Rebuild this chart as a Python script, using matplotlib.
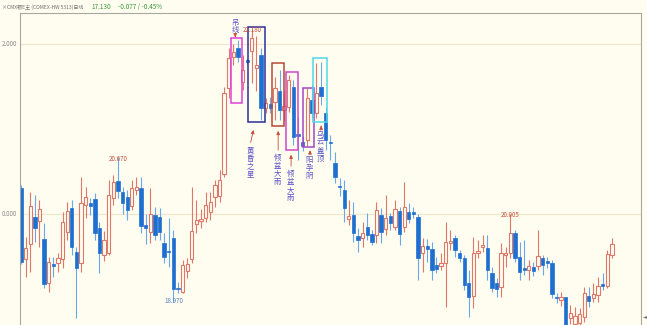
import matplotlib as mpl
mpl.use('Agg')
import matplotlib.pyplot as plt
from matplotlib.patches import Rectangle
import numpy as np

plt.rcParams['font.family'] = ['Noto Sans CJK SC', 'DejaVu Sans']

# Daily candles (open, close, high, low)
opens = [20.31, 19.47, 19.65, 19.96, 19.92, 19.71, 19.19, 19.41, 19.42, 19.47,
         19.79, 20.07, 19.55, 19.42, 20.11, 20.13, 20.18, 19.84, 19.52, 19.54,
         20.19, 20.39, 20.26, 20.20, 20.09, 20.28, 20.31, 19.87, 19.79, 19.99,
         19.96, 19.66, 19.57, 19.72, 19.13, 19.08, 19.33, 19.47, 19.88, 19.92,
         19.95, 20.02, 20.20, 20.21, 20.47, 21.48, 21.85, 21.95, 21.55, 21.81,
         21.92, 21.72, 21.87, 21.25, 21.29, 21.32, 21.45, 21.22, 21.26, 21.49,
         20.94, 20.85, 20.87, 21.34, 21.19, 21.49, 21.19, 20.84, 20.60, 20.33,
         20.28, 19.94, 19.99, 19.74, 19.72, 19.85, 19.76, 19.75, 19.99, 19.82,
         19.98, 19.85, 20.04, 19.85, 20.02, 20.02, 19.96, 19.54, 19.62, 19.59,
         19.40, 19.39, 19.42, 19.66, 19.72, 19.54, 19.48, 19.19, 19.04, 19.54,
         19.61, 19.60, 19.31, 19.19, 19.14, 19.52, 19.54, 19.78, 19.49, 19.36,
         19.34, 19.38, 19.39, 19.48, 19.45, 19.42, 19.02, 18.99, 19.02, 18.78,
         18.70, 18.72, 18.79, 19.04, 19.01, 19.05, 19.18, 19.15, 19.52]
closes = [19.44, 19.60, 20.09, 19.84, 20.06, 19.18, 19.44, 19.39, 19.48, 19.91,
          20.04, 19.61, 19.36, 20.13, 20.20, 20.09, 19.78, 19.54, 19.69, 20.22,
          20.38, 20.27, 20.13, 20.05, 20.31, 20.32, 19.86, 19.84, 20.00, 19.75,
          19.79, 19.49, 19.55, 19.12, 19.12, 19.40, 19.41, 19.80, 19.93, 19.94,
          20.11, 20.14, 20.34, 20.40, 21.42, 21.84, 21.91, 21.85, 21.69, 21.79,
          22.07, 21.75, 21.25, 21.31, 21.25, 21.48, 21.22, 21.27, 21.58, 20.91,
          20.92, 20.80, 21.36, 21.19, 21.42, 21.39, 20.87, 20.83, 20.44, 20.32,
          20.07, 19.98, 19.78, 19.69, 19.78, 19.75, 19.67, 20.05, 19.79, 19.95,
          19.89, 20.06, 19.76, 20.08, 19.94, 20.00, 19.48, 19.62, 19.59, 19.34,
          19.35, 19.42, 19.67, 19.68, 19.58, 19.48, 19.16, 19.02, 19.54, 19.56,
          19.64, 19.34, 19.13, 19.12, 19.54, 19.54, 19.78, 19.48, 19.32, 19.34,
          19.39, 19.33, 19.51, 19.40, 19.42, 19.06, 19.01, 19.02, 18.62, 18.84,
          18.80, 18.82, 19.07, 18.98, 19.06, 19.15, 19.15, 19.53, 19.65]
highs = [20.34, 19.73, 20.26, 20.22, 20.16, 19.89, 19.49, 19.49, 19.54, 20.02,
         20.14, 20.16, 19.61, 20.44, 20.32, 20.19, 20.25, 19.91, 19.80, 20.40,
         20.46, 20.67, 20.32, 20.28, 20.40, 20.44, 20.44, 20.00, 20.31, 20.08,
         20.07, 19.78, 19.95, 19.81, 19.20, 19.46, 19.48, 20.32, 20.16, 20.06,
         20.26, 20.26, 20.40, 20.52, 21.49, 21.95, 22.00, 22.05, 21.87, 21.83,
         22.18, 22.10, 21.95, 21.36, 21.38, 21.61, 21.69, 21.45, 21.64, 21.58,
         21.14, 20.92, 21.48, 21.52, 21.78, 21.79, 21.26, 20.93, 20.73, 20.42,
         20.40, 20.16, 20.14, 19.84, 19.91, 20.01, 19.81, 20.14, 20.07, 20.22,
         20.01, 20.16, 20.08, 20.38, 20.13, 20.08, 20.00, 19.72, 19.71, 19.67,
         19.49, 19.54, 19.91, 19.81, 19.75, 19.58, 19.52, 19.34, 19.73, 19.69,
         19.75, 19.75, 19.38, 19.25, 19.66, 19.61, 20.005, 19.81, 19.67, 19.69,
         19.46, 19.44, 19.81, 19.52, 19.49, 19.46, 19.07, 19.08, 19.02, 18.93,
         18.91, 18.89, 19.14, 19.14, 19.19, 19.26, 19.31, 19.58, 19.72]
lows = [19.41, 19.26, 19.32, 19.67, 19.61, 19.13, 19.08, 19.26, 19.32, 19.36,
        19.69, 19.52, 18.78, 19.32, 19.95, 19.99, 19.69, 19.31, 19.45, 19.52,
        20.11, 20.19, 20.00, 19.93, 20.05, 20.22, 19.78, 19.65, 19.66, 19.69,
        19.69, 19.42, 19.38, 18.97, 19.07, 19.07, 19.25, 19.42, 19.78, 19.84,
        19.91, 19.93, 20.08, 20.14, 20.44, 21.36, 21.75, 21.79, 21.46, 21.77,
        21.54, 21.45, 21.11, 21.19, 21.19, 21.11, 21.11, 21.10, 21.20, 20.81,
        20.64, 20.74, 20.80, 21.13, 21.13, 21.28, 20.75, 20.64, 20.36, 20.21,
        19.91, 19.87, 19.67, 19.55, 19.61, 19.69, 19.64, 19.66, 19.66, 19.75,
        19.81, 19.81, 19.64, 19.79, 19.89, 19.95, 19.22, 19.32, 19.44, 19.22,
        19.31, 19.34, 18.91, 19.58, 19.49, 19.44, 19.11, 18.79, 18.89, 19.48,
        19.55, 19.22, 19.08, 19.02, 19.02, 19.38, 19.48, 19.44, 19.22, 19.28,
        19.22, 19.27, 19.34, 19.28, 19.36, 19.01, 18.95, 18.92, 18.55, 18.70,
        18.62, 18.62, 18.73, 18.91, 18.96, 18.96, 19.11, 19.13, 19.48]

# price labels on the chart
marks = [(50, 22.18, '22.180', 'top'), (21, 20.67, '20.670', 'top'),
         (33, 18.97, '18.970', 'bottom'), (106, 20.005, '20.005', 'top')]

# pattern boxes: (x0, x1, y0, y1, colour)
boxes = [(45.5, 47.9, 21.31, 22.07, '#E040D8'),
         (49.2, 52.85, 21.08, 22.20, '#2E2E9C'),
         (54.4, 57.0, 21.04, 21.78, '#B84A38'),
         (57.4, 60.0, 20.75, 21.67, '#D048C8'),
         (61.1, 63.5, 20.79, 21.48, '#A048C8'),
         (63.2, 66.3, 21.08, 21.835, '#50D8E8')]

# pattern names with arrow tip / tail / text position
notes = [('黄昏之星', (50.5, 21.02), (49.6, 20.81), (49.6, 20.79)),
         ('倾盆大雨', (55.7, 21.01), (55.7, 20.72), (55.5, 20.71)),
         ('倾盆大雨', (58.5, 20.73), (58.5, 20.53), (58.3, 20.52)),
         ('阳孕阴', (62.6, 20.78), (62.6, 20.70), (62.4, 20.68)),
         ('乌云盖顶', (65.0, 21.07), (65.0, 21.00), (64.8, 20.98))]

bg = '#FFFDF0'
blue = '#1F6FD1'
blue_wick = '#6AA8EC'
red = '#E0786A'

fg = plt.figure(figsize=(6.47, 3.25), dpi=100, facecolor=bg)
ax = fg.add_axes([20/647, 0.0, 621/647, 1 - 13/325])
ax.set_facecolor(bg)

x = np.arange(len(opens))
o = np.array(opens); c = np.array(closes)
h = np.array(highs); l = np.array(lows)
up = c >= o

# Gridlines
for g in [20.0, 22.0]:
  ax.axhline(g, color='#EDE7CC', lw=0.8, zorder=0)

# Wicks
ax.vlines(x[up], l[up], h[up], color=red, lw=0.8, zorder=1)
ax.vlines(x[~up], l[~up], h[~up], color=blue_wick, lw=0.8, zorder=1)

# Bodies
bw = 0.72
body = np.maximum(np.abs(c - o), 0.012)
ax.bar(x[up], body[up], bottom=o[up], width=bw, facecolor=bg, edgecolor=red, lw=0.8, zorder=2)
ax.bar(x[~up], body[~up], bottom=c[~up], width=bw, facecolor=blue, edgecolor=blue, lw=0.5, zorder=2)

# High / low labels
for xi, yi, s, va in marks:
  col = '#5A7FC0' if va == 'bottom' else '#C8503C'
  off = -0.04 if va == 'bottom' else 0.03
  ax.text(xi, yi + off, s, fontsize=4.5, color=col, ha='center', va=va, zorder=5)

# Pattern boxes
for x0, x1, y0, y1, col in boxes:
  ax.add_patch(Rectangle((x0, y0), x1 - x0, y1 - y0, fill=False, edgecolor=col, lw=1.1, zorder=4))

# Pattern names
for s, tip, tail, pos in notes:
  ax.annotate('', xy=tip, xytext=tail,
              arrowprops=dict(arrowstyle='-|>', color='#C84A3A', lw=0.6, mutation_scale=5), zorder=5)
  ax.text(pos[0], pos[1], '\n'.join(s), fontsize=5.3, color='#5A52C8', ha='center', va='top',
          linespacing=1.0, zorder=5)

ax.annotate('', xy=(46.4, 22.08), xytext=(46.4, 22.13),
            arrowprops=dict(arrowstyle='-|>', color='#C84A3A', lw=0.6, mutation_scale=5), zorder=5)
ax.text(46.4, 22.30, '吊\n线', fontsize=5.3, color='#5A52C8', ha='center', va='top', linespacing=0.95, zorder=5)

ax.set_xlim(-0.22, 134.3)
ax.set_ylim(18.694, 22.365)
ax.set_xticks([])
ax.set_yticks([])
for sp in ['left', 'top', 'right']:
  ax.spines[sp].set_color('#A8A8A0')
  ax.spines[sp].set_linewidth(0.8)
ax.spines['bottom'].set_visible(False)

# Axis labels (cut-off price scale)
fg.text(2/647, 1 - 44/325, '2.000', fontsize=4.5, color='#888888', va='center', ha='left')
fg.text(2/647, 1 - 214/325, '0.000', fontsize=4.5, color='#888888', va='center', ha='left')

# Header
fg.text(2/647, 1 - 7/325, '×CMX银E主 (COMEX-HW 5313)日线', fontsize=3.6, color='#707070', va='center', ha='left')
fg.text(91/647, 1 - 7/325, '17.130', fontsize=4.6, color='#3A9A3A', va='center', ha='left')
fg.text(118/647, 1 - 7/325, '-0.077 / -0.45%', fontsize=4.6, color='#3A9A3A', va='center', ha='left')
fg.text(645/647, 1 - 317/325, '◄', fontsize=4, color='#707070', va='center', ha='center')

fg.savefig('out.png', dpi=100, facecolor=bg)
